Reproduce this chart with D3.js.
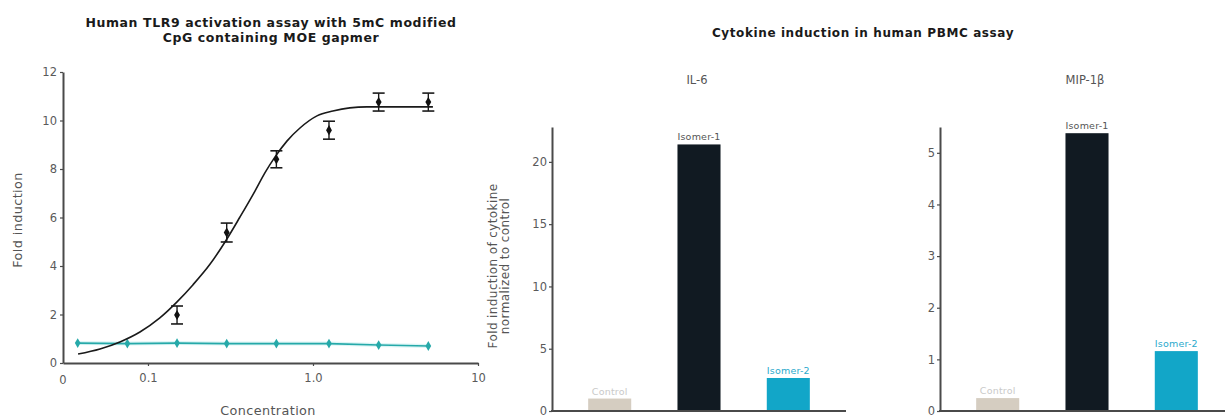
<!DOCTYPE html>
<html>
<head>
<meta charset="utf-8">
<script src="https://cdn.jsdelivr.net/npm/d3@7"></script>
<style>
  html, body { margin: 0; padding: 0; background: #fff; }
  svg { display: block; }
  text { font-family: "DejaVu Sans", sans-serif; }
</style>
</head>
<body>
<svg id="chart" width="1225" height="419"></svg>
<script>
// ---- TLR9 dose response ----
const doseConc   = [0.15, 0.3, 0.6, 1.25, 2.5, 5];
const doseFold   = [1.98, 5.38, 8.4, 9.6, 10.76, 10.76];
const doseErr    = [0.37, 0.39, 0.35, 0.37, 0.37, 0.37];
const fitConc    = [0.0377, 0.0512, 0.0676, 0.0894, 0.118, 0.150, 0.187, 0.238, 0.293, 0.361, 0.445, 0.512, 0.589, 0.695, 0.834, 1.057, 1.32, 1.67, 2.12, 3.37, 5.33];
const fitFold    = [0.37, 0.58, 0.87, 1.28, 1.86, 2.52, 3.22, 4.08, 4.99, 6.02, 7.09, 7.85, 8.5, 9.15, 9.69, 10.19, 10.39, 10.52, 10.56, 10.56, 10.56];
const ctrlConc   = [0.0375, 0.075, 0.15, 0.3, 0.6, 1.25, 2.5, 5];
const ctrlFold   = [0.82, 0.80, 0.82, 0.80, 0.80, 0.80, 0.74, 0.70];
const doseYTicks = [0, 2, 4, 6, 8, 10, 12];
const doseXTicks = [0.1, 1, 10];
const doseXLabels = ["0.1", "1.0", "10"];

// ---- PBMC cytokine induction ----
const groups     = ["Control", "Isomer-1", "Isomer-2"];
const il6Values  = [1.0, 21.4, 2.65];
const mipValues  = [0.25, 5.38, 1.16];
const il6Ticks   = [0, 5, 10, 15, 20];
const mipTicks   = [0, 1, 2, 3, 4, 5];
const groupColors = ["#d5cdc1", "#111a22", "#12a6c8"];
const labelColors = ["#c9c9c9", "#555555", "#2aa9cc"];

const svg = d3.select("#chart");
const axisColor = "#4a4a4a";
const tickText = "#5a5a5a";
const font = '"DejaVu Sans", sans-serif';

function styleAxis(g) {
  g.select(".domain").attr("stroke", axisColor).attr("stroke-width", 2);
  g.selectAll(".tick line").attr("stroke", axisColor).attr("stroke-width", 1.2);
  g.selectAll(".tick text").attr("fill", tickText).style("font-size", "11.5px")
    .style("font-family", font);
}

// ================= Left panel =================
const x = d3.scaleLog().domain([Math.pow(10, -1.515), 10]).range([63, 478]);
const y = d3.scaleLinear().domain([0, 12]).range([363, 72]);

[["Human TLR9 activation assay with 5mC modified", 27], ["CpG containing MOE gapmer", 42]]
  .forEach(([t, yy]) => {
    svg.append("text")
      .attr("x", 271).attr("y", yy).attr("text-anchor", "middle")
      .style("font-size", "12.5px").style("font-weight", 700).style("letter-spacing", "0.6px")
      .attr("fill", "#1a1a1a").text(t);
  });

const gy = svg.append("g").attr("transform", "translate(63,0)")
  .call(d3.axisLeft(y).tickValues(doseYTicks).tickSize(3).tickSizeOuter(0).tickPadding(3));
styleAxis(gy);

const gx = svg.append("g").attr("transform", "translate(0,363)")
  .call(d3.axisBottom(x).tickValues(doseXTicks).tickSize(3).tickSizeOuter(0).tickPadding(8)
    .tickFormat((d, i) => doseXLabels[i]));
styleAxis(gx);
gx.append("text")
  .attr("x", x.range()[0]).attr("y", 21).attr("text-anchor", "middle")
  .attr("fill", tickText).style("font-size", "11.5px").text("0");

svg.append("text")
  .attr("transform", "translate(22,220) rotate(-90)")
  .attr("text-anchor", "middle").attr("fill", "#555")
  .style("font-size", "12.8px").style("letter-spacing", "0.4px")
  .text("Fold induction");
svg.append("text")
  .attr("x", 268).attr("y", 415).attr("text-anchor", "middle")
  .attr("fill", "#555").style("font-size", "12.8px").style("letter-spacing", "0.4px")
  .text("Concentration");

// control oligo series (teal, with soft halo)
const ctrlLine = d3.line().x((d, i) => x(ctrlConc[i])).y(d => y(d));
svg.append("path").datum(ctrlFold)
  .attr("d", ctrlLine).attr("fill", "none")
  .attr("stroke", "#a6e6e6").attr("stroke-width", 4).attr("stroke-opacity", 0.4);
svg.append("path").datum(ctrlFold)
  .attr("d", ctrlLine).attr("fill", "none")
  .attr("stroke", "#26a9a9").attr("stroke-width", 1.6);
svg.selectAll(".ctrl-pt").data(ctrlFold).enter().append("path")
  .attr("class", "ctrl-pt")
  .attr("transform", (d, i) => `translate(${x(ctrlConc[i])},${y(d)})`)
  .attr("d", d3.symbol(d3.symbolDiamond, 28))
  .attr("fill", "#26a9a9");

// fitted dose-response curve
svg.append("path").datum(fitFold)
  .attr("d", d3.line().x((d, i) => x(fitConc[i])).y(d => y(d)).curve(d3.curveMonotoneX))
  .attr("fill", "none").attr("stroke", "#1a1a1a").attr("stroke-width", 1.6);

// error bars and means
const eb = svg.selectAll(".eb").data(doseFold).enter().append("g").attr("class", "eb");
eb.append("line")
  .attr("x1", (d, i) => x(doseConc[i])).attr("x2", (d, i) => x(doseConc[i]))
  .attr("y1", (d, i) => y(d + doseErr[i])).attr("y2", (d, i) => y(d - doseErr[i]))
  .attr("stroke", "#1a1a1a").attr("stroke-width", 1.4);
[1, -1].forEach(s => {
  eb.append("line")
    .attr("x1", (d, i) => x(doseConc[i]) - 6).attr("x2", (d, i) => x(doseConc[i]) + 6)
    .attr("y1", (d, i) => y(d + s * doseErr[i])).attr("y2", (d, i) => y(d + s * doseErr[i]))
    .attr("stroke", "#1a1a1a").attr("stroke-width", 1.6);
});
eb.append("path")
  .attr("transform", (d, i) => `translate(${x(doseConc[i])},${y(d)})`)
  .attr("d", d3.symbol(d3.symbolDiamond, 30))
  .attr("fill", "#111");

// ================= Right panels =================
svg.append("text")
  .attr("x", 863).attr("y", 37).attr("text-anchor", "middle")
  .style("font-size", "12px").style("font-weight", 700).style("letter-spacing", "0.6px")
  .attr("fill", "#1a1a1a")
  .text("Cytokine induction in human PBMC assay");

const yLab = svg.append("text")
  .attr("transform", "translate(497,266) rotate(-90)")
  .attr("text-anchor", "middle").attr("fill", "#555")
  .style("font-size", "12px").style("letter-spacing", "0.4px");
yLab.append("tspan").attr("x", 0).attr("dy", 0).text("Fold induction of cytokine");
yLab.append("tspan").attr("x", 0).attr("dy", 11.5).text("normalized to control");

function barPanel(x0, x1, values, ticks, yMax, title) {
  const xb = d3.scaleBand().domain(groups).range([x0, x1])
    .paddingInner(0.518).paddingOuter(0.405);
  const yb = d3.scaleLinear().domain([0, yMax]).range([411, 127]);

  svg.append("text")
    .attr("x", xb("Isomer-1") + xb.bandwidth() / 2 - 2).attr("y", 84)
    .attr("text-anchor", "middle").attr("fill", "#555").style("font-size", "11.5px")
    .text(title);

  svg.selectAll(null).data(values).enter().append("rect")
    .attr("x", (d, i) => xb(groups[i]))
    .attr("width", xb.bandwidth())
    .attr("y", d => yb(d))
    .attr("height", d => yb(0) - yb(d))
    .attr("fill", (d, i) => groupColors[i]);

  svg.selectAll(null).data(values).enter().append("text")
    .attr("x", (d, i) => xb(groups[i]) + xb.bandwidth() / 2)
    .attr("y", d => yb(d) - 4)
    .attr("text-anchor", "middle")
    .attr("fill", (d, i) => labelColors[i])
    .style("font-size", "9.5px").style("letter-spacing", "0.2px")
    .text((d, i) => groups[i]);

  const ga = svg.append("g").attr("transform", `translate(${x0},0)`)
    .call(d3.axisLeft(yb).tickValues(ticks).tickSize(3).tickSizeOuter(0).tickPadding(2)
      .tickFormat(d3.format("d")));
  styleAxis(ga);

  svg.append("line")
    .attr("x1", x0 - 1).attr("x2", x1).attr("y1", yb(0)).attr("y2", yb(0))
    .attr("stroke", axisColor).attr("stroke-width", 2);
}

barPanel(552, 846, il6Values, il6Ticks, 22.8, "IL-6");
barPanel(940, 1234, mipValues, mipTicks, 5.5, "MIP-1β");
</script>
</body>
</html>
